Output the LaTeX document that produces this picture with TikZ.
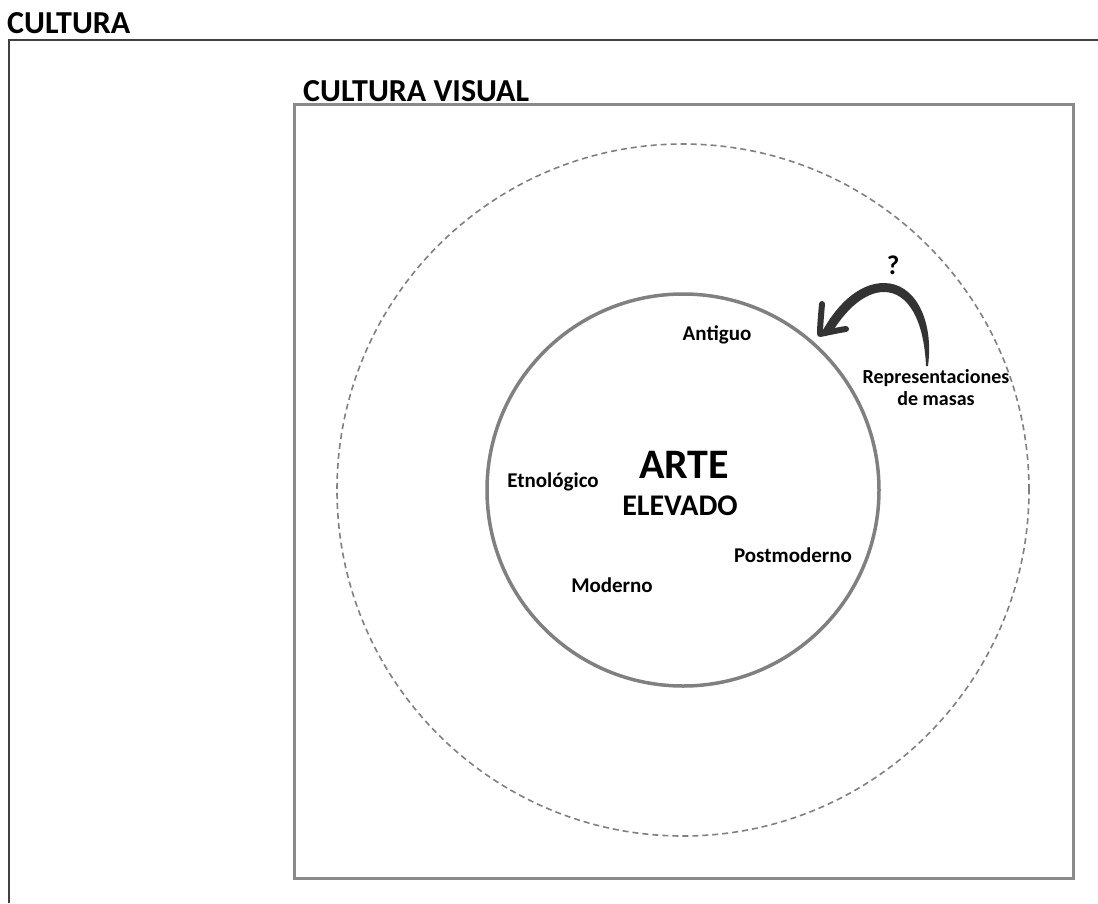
\documentclass[tikz,border=0pt]{standalone}
\usepackage{fontspec}
\setmainfont{Carlito}
\begin{document}
\begin{tikzpicture}[x=1pt,y=-1pt,
  lbl/.style={font=\bfseries\fontsize{21}{24}\selectfont, inner sep=0pt, align=center},
  head/.style={font=\bfseries\fontsize{32}{34}\selectfont, inner sep=0pt, anchor=base west},
  framegray/.style={draw=black!46, line width=3pt}]
\useasboundingbox (0,0) rectangle (1098,903);
% outer frame (open)
\coordinate (o1) at (9,903);
\coordinate (o2) at (9,40);
\coordinate (o3) at (1098,40);
\draw[line width=2pt, draw=black!75] (o1) -- (o2) -- (o3);
\node[head] (cultura) at (7,33) {CULTURA};
% visual culture box
\draw[framegray] (294,104) rectangle (1073,878);
\node[head] (visual) at (303,101) {CULTURA VISUAL};
% circles
\coordinate (c) at (683,490);
\draw[draw=black!50, line width=1.6pt, dash pattern=on 6pt off 4pt] (c) circle[radius=346pt];
\draw[draw=black!50, line width=3.5pt] (c) circle[radius=196pt];
% center text
\node[font=\bfseries\fontsize{42}{44}\selectfont, inner sep=0pt, anchor=base] (arte) at (684,478) {ARTE};
\node[font=\bfseries\fontsize{30}{32}\selectfont, inner sep=0pt, anchor=base] (elevado) at (680,515) {ELEVADO};
\node[lbl] (antiguo) at (717,335) {Antiguo};
\node[lbl] (etno) at (553,482) {Etnológico};
\node[lbl] (post) at (793,555) {Postmoderno};
\node[lbl] (moderno) at (612,585) {Moderno};
\node[lbl, font=\bfseries\fontsize{20}{22}\selectfont] (repr) at (936,388) {Representaciones\\de masas};
\node[font=\bfseries\fontsize{27}{28}\selectfont, inner sep=0pt] (q) at (893,265) {?};
% tapered curved arrow
\fill[black!80]
  (928,366) .. controls (934,320) and (915,283) .. (884,283)
  .. controls (862,283) and (840,300) .. (823,330)
  -- (831,334)
  .. controls (846,309) and (865,292) .. (884,292)
  .. controls (908,292) and (924,320) .. (926,366) -- cycle;
\coordinate (tip) at (820,334);
\draw[black!80, line width=6pt, line cap=round, line join=round]
  (822,304) .. controls (821,316) and (820,326) .. (tip)
  .. controls (830,332) and (839,330) .. (846,329);
\end{tikzpicture}
\end{document}
